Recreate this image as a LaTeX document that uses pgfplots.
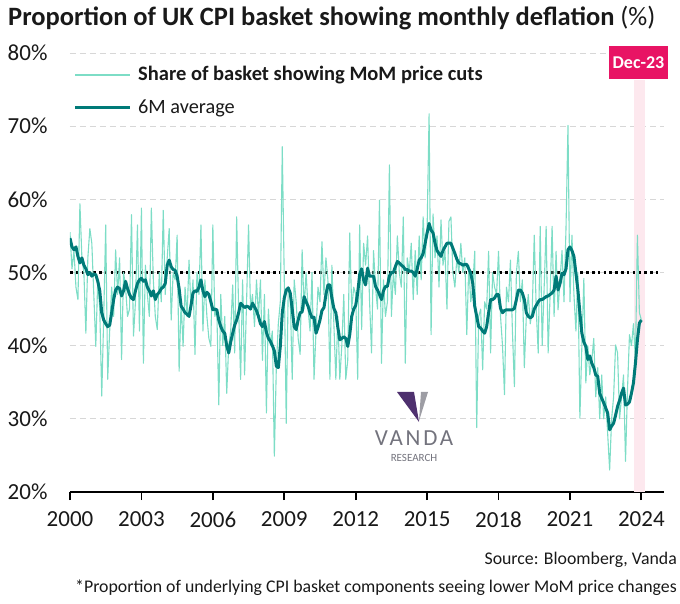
\documentclass[border=0pt]{standalone}
\usepackage{fontspec}
\setmainfont{Carlito}
\usepackage{pgfplots}
\usepackage{pgfplotstable}
\pgfplotsset{compat=1.18}
\definecolor{lightc}{RGB}{125,221,198}
\definecolor{darkc}{RGB}{0,122,120}
\definecolor{bandc}{RGB}{253,232,238}
\definecolor{boxc}{RGB}{232,20,100}
\definecolor{gridc}{RGB}{215,215,215}
\definecolor{txtc}{RGB}{25,25,25}
\definecolor{wmgray}{RGB}{115,115,125}
\definecolor{wmpurple}{RGB}{78,48,110}

\pgfplotstableread{
m share avg
0 55.5 54.7
1 50.5 53.5
2 53.0 53.1
3 48.0 53.5
4 46.3 52.2
5 59.4 51.3
6 52.0 52.0
7 50.0 51.0
8 41.7 50.5
9 52.0 49.7
10 56.0 50.0
11 54.0 49.5
12 47.0 49.8
13 39.9 49.7
14 49.0 48.8
15 45.0 47.5
16 33.1 44.5
17 44.0 43.5
18 56.5 43.0
19 35.4 42.6
20 42.0 42.8
21 48.0 44.5
22 44.0 46.3
23 53.1 47.6
24 47.0 48.0
25 52.0 47.8
26 38.1 46.8
27 50.0 47.5
28 48.0 48.8
29 44.0 47.8
30 45.0 47.0
31 57.9 46.5
32 41.3 46.3
33 46.0 47.5
34 56.5 48.5
35 42.0 49.0
36 58.8 49.2
37 37.6 48.8
38 51.0 49.0
39 47.0 48.0
40 44.0 47.5
41 58.8 46.8
42 49.0 47.5
43 44.0 46.3
44 42.2 47.0
45 50.0 47.3
46 46.0 47.8
47 58.5 48.0
48 47.0 48.5
49 52.0 51.0
50 56.0 51.7
51 43.5 50.8
52 50.0 50.4
53 49.0 50.3
54 55.1 49.5
55 36.5 47.8
56 46.0 45.4
57 39.9 45.0
58 48.0 44.5
59 44.0 44.3
60 51.7 44.0
61 45.0 45.5
62 49.0 47.2
63 38.8 47.5
64 50.0 47.4
65 47.0 48.0
66 56.5 49.0
67 42.0 47.5
68 49.0 46.7
69 44.0 47.3
70 41.0 47.0
71 39.9 46.0
72 56.5 44.9
73 44.0 45.0
74 45.0 44.9
75 31.9 43.5
76 47.0 42.6
77 40.0 42.0
78 44.0 41.7
79 33.5 40.0
80 40.0 39.0
81 42.0 40.5
82 48.3 41.7
83 39.0 42.8
84 57.6 43.5
85 45.0 44.5
86 35.4 45.8
87 49.0 45.5
88 36.0 45.2
89 46.0 45.4
90 56.5 45.3
91 45.0 45.0
92 47.0 45.8
93 42.6 45.3
94 49.0 44.8
95 44.0 44.0
96 49.0 43.0
97 38.0 42.6
98 47.0 43.3
99 30.8 41.8
100 45.0 41.0
101 40.0 40.6
102 42.0 40.0
103 24.9 39.3
104 37.0 37.2
105 43.0 37.0
106 46.0 39.9
107 67.2 44.5
108 49.0 46.5
109 29.4 47.6
110 48.0 47.9
111 47.0 47.2
112 35.4 45.0
113 49.0 42.6
114 46.0 42.2
115 41.0 43.5
116 38.8 44.5
117 53.1 44.6
118 45.0 46.7
119 50.0 46.0
120 45.0 45.4
121 42.0 44.5
122 50.0 43.8
123 35.4 43.9
124 42.0 41.7
125 48.0 42.5
126 46.0 43.5
127 54.2 44.8
128 47.0 45.2
129 52.0 47.0
130 49.0 48.3
131 35.4 48.3
132 51.0 46.5
133 43.0 45.1
134 35.4 44.5
135 44.0 42.5
136 35.4 40.8
137 40.0 41.0
138 47.0 41.2
139 35.4 41.0
140 38.0 39.9
141 55.4 41.5
142 45.0 44.0
143 48.0 45.0
144 47.0 45.5
145 35.4 47.2
146 56.5 49.7
147 42.2 50.5
148 54.0 49.0
149 51.0 48.3
150 55.0 50.6
151 46.0 49.5
152 39.0 49.5
153 53.0 49.5
154 48.0 48.1
155 45.0 47.6
156 59.9 47.0
157 37.6 46.3
158 49.0 47.5
159 44.0 48.1
160 46.0 48.1
161 64.7 49.5
162 44.0 50.0
163 50.0 50.0
164 47.0 50.8
165 55.0 51.5
166 50.0 51.3
167 48.0 51.0
168 57.6 50.8
169 37.6 50.4
170 52.0 50.4
171 50.0 50.2
172 54.0 50.2
173 46.3 50.0
174 53.0 49.5
175 47.0 50.5
176 55.0 51.7
177 49.0 52.0
178 57.6 52.6
179 52.0 54.0
180 56.0 55.4
181 71.7 56.7
182 41.5 55.8
183 58.0 55.4
184 52.0 54.0
185 55.0 53.0
186 48.0 52.6
187 57.2 52.2
188 51.0 53.0
189 53.0 53.5
190 45.0 54.0
191 57.0 54.0
192 57.6 54.0
193 50.0 53.3
194 48.0 52.6
195 52.0 51.8
196 50.0 51.3
197 54.0 51.2
198 50.0 51.0
199 52.0 51.1
200 41.5 51.1
201 51.0 50.5
202 46.0 49.9
203 48.0 48.5
204 52.9 45.4
205 28.8 44.0
206 44.0 42.6
207 45.0 42.4
208 36.7 42.0
209 46.0 41.7
210 45.0 42.6
211 52.9 44.5
212 39.0 46.3
213 50.0 46.3
214 48.0 46.5
215 47.0 47.0
216 52.9 47.0
217 44.0 45.1
218 40.0 44.5
219 33.3 44.8
220 48.0 44.9
221 46.0 44.9
222 51.7 44.9
223 42.0 44.9
224 34.4 45.1
225 50.0 46.3
226 52.9 47.6
227 46.0 47.6
228 49.0 47.2
229 37.0 46.3
230 44.0 44.5
231 47.0 44.0
232 43.0 43.8
233 45.0 44.0
234 55.1 45.0
235 45.0 45.5
236 39.0 46.0
237 56.3 46.3
238 40.0 46.3
239 48.0 46.5
240 56.3 46.7
241 39.0 46.8
242 47.0 47.0
243 56.3 47.2
244 44.0 47.6
245 52.9 49.5
246 44.9 47.6
247 49.0 48.5
248 53.0 49.9
249 46.0 49.7
250 56.0 50.5
251 70.1 53.1
252 46.0 53.5
253 55.1 53.0
254 47.0 52.2
255 42.0 49.9
256 50.0 47.6
257 30.1 44.5
258 40.0 41.7
259 49.2 40.5
260 34.9 39.9
261 40.0 38.1
262 36.0 38.6
263 38.0 37.6
264 41.0 37.0
265 33.0 36.0
266 37.0 35.8
267 30.0 33.5
268 36.0 32.8
269 30.0 32.2
270 33.0 31.5
271 28.0 30.8
272 23.0 28.5
273 30.0 29.0
274 33.0 29.4
275 40.1 30.5
276 39.0 31.7
277 30.0 32.5
278 33.0 33.5
279 36.0 34.2
280 24.2 31.9
281 34.0 32.0
282 41.5 32.3
283 40.0 33.5
284 43.0 34.9
285 38.0 37.6
286 55.1 40.8
287 44.5 43.1
288 43.5 43.5
}\cpidata

\begin{document}
\begin{tikzpicture}[x=1pt,y=1pt]
\path[use as bounding box] (0,0) rectangle (680,603);
\begin{axis}[
  at={(70pt,111pt)}, anchor=south west,
  scale only axis, width=594pt, height=439pt,
  xmin=2000, xmax=2024.95, ymin=20, ymax=80,
  axis x line=bottom, axis y line=left,
  x axis line style={line width=1.8pt, -, black},
  y axis line style={draw=none},
  xtick={2000,2003,2006,2009,2012,2015,2018,2021,2024},
  xticklabels={2000,2003,2006,2009,2012,2015,2018,2021,2024},
  ytick={20,30,40,50,60,70,80},
  yticklabels={20\%,30\%,40\%,50\%,60\%,70\%,80\%},
  tick align=outside, major tick length=8pt,
  xtick style={line width=1.8pt, black},
  ytick style={draw=none},
  ymajorgrids,
  grid style={gridc, dash pattern=on 6pt off 4pt, line width=0.8pt},
  tick label style={font=\fontsize{23}{23}\selectfont, text=txtc},
  xticklabel style={yshift=-8pt},
  yticklabel style={xshift=-11pt},
]
\fill[bandc] (axis cs:2023.70,20) rectangle (axis cs:2024.16,76.3);
\addplot[black, line width=2.6pt, dash pattern=on 2.6pt off 3.2pt] coordinates {(2000,50) (2024.8,50)};
\addplot[lightc, line width=1.1pt, line join=round] table[x expr=2000+\thisrow{m}/12, y=share] {\cpidata};
\addplot[darkc, line width=3pt, line join=round] table[x expr=2000+\thisrow{m}/12, y=avg] {\cpidata};
\end{axis}

% title
\node[anchor=west, inner sep=0, text=txtc] at (8,585) {\fontsize{26.5}{26.5}\selectfont\bfseries Proportion of UK CPI basket showing monthly deflation \mdseries(\%)};
% legend
\draw[lightc, line width=1.2pt] (75,528) -- (130,528);
\node[anchor=west, inner sep=0, text=txtc] at (138,528) {\fontsize{20.5}{20.5}\selectfont\bfseries Share of basket showing MoM price cuts};
\draw[darkc, line width=3pt] (75,495) -- (130,495);
\node[anchor=west, inner sep=0, text=txtc] at (138,495) {\fontsize{20.3}{20.3}\selectfont 6M average};
% Dec-23 box
\fill[boxc] (609,524) rectangle (668,557);
\node[text=white, inner sep=0] at (638.5,540.5) {\fontsize{18}{18}\selectfont\bfseries Dec-23};
% watermark
\fill[wmpurple] (397,211) -- (414,211) -- (419,181) -- cycle;
\fill[wmgray!70] (421,211) -- (428,211) -- (419,182) -- cycle;
\node[text=wmgray, inner sep=0] at (414,165) {\fontsize{23}{23}\selectfont\addfontfeatures{LetterSpace=12}VANDA};
\node[text=wmgray, inner sep=0] at (414,145) {\fontsize{11}{11}\selectfont RESEARCH};
% source
\node[anchor=east, inner sep=0, text=txtc] at (677,43) {\fontsize{17.8}{17.8}\selectfont Source: Bloomberg, Vanda};
\node[anchor=east, inner sep=0, text=txtc] at (677,15) {\fontsize{17.8}{17.8}\selectfont *Proportion of underlying CPI basket components seeing lower MoM price changes};
\end{tikzpicture}
\end{document}
